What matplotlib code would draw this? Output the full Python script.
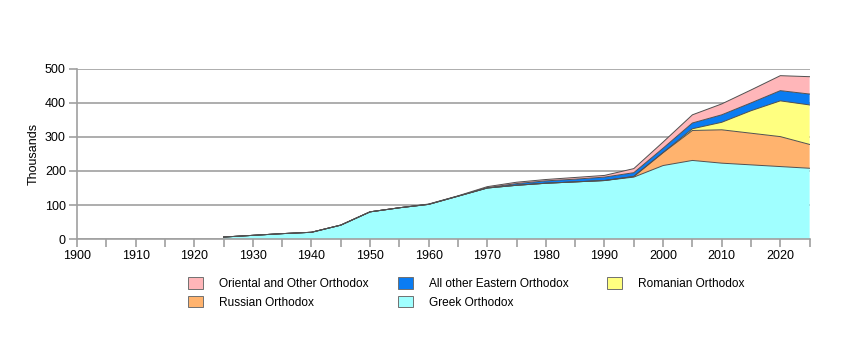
import matplotlib
matplotlib.use("Agg")
import matplotlib.pyplot as plt
from matplotlib.patches import Patch
import numpy as np

plt.rcParams['font.family'] = ['Liberation Sans', 'DejaVu Sans']

years = [1925, 1930, 1935, 1940, 1945, 1950, 1955, 1960, 1965, 1970, 1975,
         1980, 1985, 1990, 1995, 2000, 2005, 2010, 2015, 2020, 2025]
greek = [6, 11, 16, 20, 41, 80, 92, 102, 126, 150, 158,
         164, 168, 172, 182, 216, 231, 223, 218, 213, 208]
russian = [0, 0, 0, 0, 0, 0, 0, 0, 0, 0, 0,
           0, 0, 0, 2, 38, 88, 98, 93, 88, 70]
romanian = [0, 0, 0, 0, 0, 0, 0, 0, 0, 0, 0,
            0, 0, 0, 0, 0, 5, 22, 66, 105, 116]
other_eastern = [0, 0, 0, 0, 0, 0, 0, 0, 0, 1, 5,
                 7, 8, 10, 11, 13, 17, 22, 23, 30, 32]
oriental = [0, 0, 0, 0, 0, 0, 0, 1, 1, 3, 4,
            4, 5, 5, 12, 18, 24, 32, 38, 44, 51]

labels = ["Greek Orthodox", "Russian Orthodox", "Romanian Orthodox",
          "All other Eastern Orthodox", "Oriental and Other Orthodox"]
colors = ["#a0ffff", "#ffb36e", "#ffff80", "#0a7cf2", "#ffb6b9"]
series = [greek, russian, romanian, other_eastern, oriental]

fig = plt.figure(figsize=(8.46, 3.46), dpi=100)
ax = fig.add_axes([0.091, 0.309, 0.866, 0.492])

x = np.array(years)
base = np.zeros(len(years))
for vals, col in zip(series, colors):
    top = base + np.array(vals)
    ax.fill_between(x, base, top, facecolor=col, edgecolor='none', zorder=3)
    ax.plot(x, top, color='#505050', lw=0.7, zorder=4)
    base = top

ax.set_xlim(1900, 2025)
ax.set_ylim(0, 500)
ax.set_xticks(np.arange(1900, 2026, 5))
ax.set_xticklabels([str(y) if y % 10 == 0 else '' for y in range(1900, 2026, 5)])
ax.set_yticks(np.arange(0, 501, 100))
ax.yaxis.grid(True, color='#a0a0a0', lw=1.2, zorder=1)
ax.set_axisbelow(True)
for s in ['top', 'right']:
    ax.spines[s].set_visible(False)
for s in ['left', 'bottom']:
    ax.spines[s].set_color('#a0a0a0')
    ax.spines[s].set_linewidth(1.2)
    ax.spines[s].set_zorder(5)
ax.tick_params(axis='both', colors='#a0a0a0', length=6, width=1.2,
               labelcolor='black', labelsize=9, pad=2)
ax.set_ylabel("Thousands", fontsize=9, labelpad=4)

columns = [([4, 1], 0.2222), ([3, 0], 0.4704), ([2], 0.7175)]
for idxs, xpos in columns:
    handles = [Patch(facecolor=colors[i], edgecolor='#707070', lw=0.7, label=labels[i])
               for i in idxs]
    fig.legend(handles=handles, ncol=1, loc='upper left', bbox_to_anchor=(xpos, 0.198),
               frameon=False, fontsize=8.6, handlelength=1.27, handleheight=1.1,
               handletextpad=1.36, labelspacing=0.48, borderaxespad=0, borderpad=0)

fig.savefig("out.png", dpi=100)
